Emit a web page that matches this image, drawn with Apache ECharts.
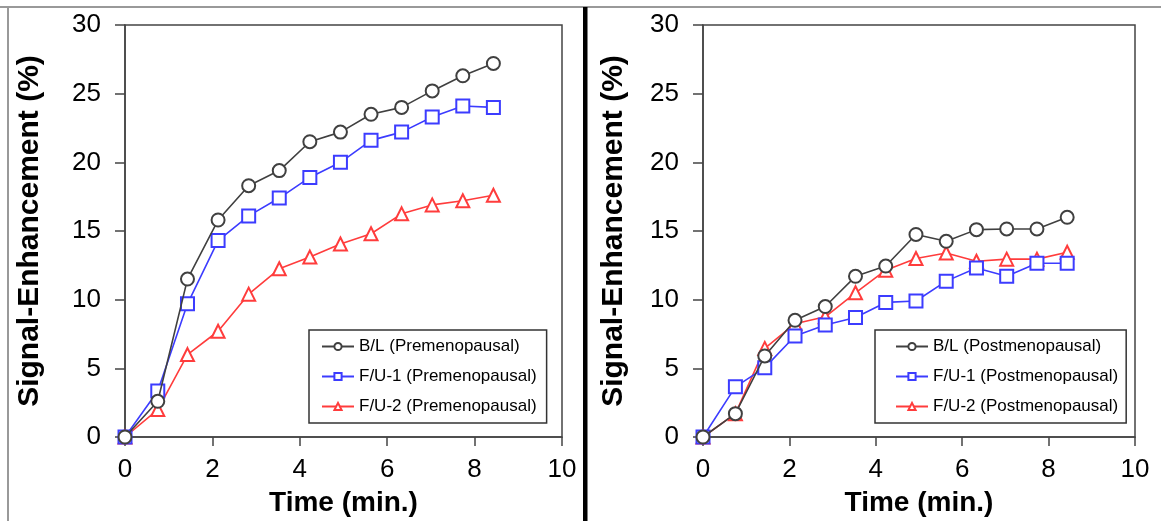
<!DOCTYPE html>
<html>
<head>
<meta charset="utf-8">
<script src="https://cdn.jsdelivr.net/npm/echarts@6/dist/echarts.min.js"></script>
<style>
html,body{margin:0;padding:0;background:#fff;}
#c{width:1161px;height:521px;}
</style>
</head>
<body>
<div id="c"></div>
<script>
// Time points (min.)
var time = [0, 0.75, 1.43, 2.13, 2.83, 3.53, 4.23, 4.93, 5.63, 6.33, 7.03, 7.73, 8.43];
// Premenopausal (left panel)
var blPre  = [0, 2.6, 11.5, 15.8, 18.3, 19.4, 21.5, 22.2, 23.5, 24.0, 25.2, 26.3, 27.2];
var fu1Pre = [0, 3.35, 9.7, 14.3, 16.1, 17.4, 18.9, 20.0, 21.6, 22.2, 23.3, 24.1, 24.0];
var fu2Pre = [0, 2.0, 6.0, 7.7, 10.4, 12.25, 13.1, 14.05, 14.8, 16.25, 16.9, 17.2, 17.6];
// Postmenopausal (right panel)
var blPost  = [0, 1.7, 5.9, 8.5, 9.5, 11.7, 12.45, 14.75, 14.25, 15.1, 15.15, 15.15, 16.0];
var fu1Post = [0, 3.65, 5.05, 7.35, 8.15, 8.7, 9.8, 9.9, 11.35, 12.3, 11.7, 12.65, 12.65];
var fu2Post = [0, 1.7, 6.45, 8.25, 8.75, 10.5, 12.15, 13.0, 13.4, 12.8, 12.95, 12.95, 13.45];
// Labels
var namesPre  = ['B/L (Premenopausal)', 'F/U-1 (Premenopausal)', 'F/U-2 (Premenopausal)'];
var namesPost = ['B/L (Postmenopausal)', 'F/U-1 (Postmenopausal)', 'F/U-2 (Postmenopausal)'];
var xTitle = 'Time (min.)';
var yTitle = 'Signal-Enhancement (%)';

var FONT = "'Liberation Sans', Arial, sans-serif";
var colors = ['#404040', '#3c3cff', '#ff3c3c'];
var symbols = ['emptyCircle', 'emptyRect', 'emptyTriangle'];

function pairs(xs, ys){ return xs.map(function(x,i){ return [x, ys[i]]; }); }

function xAxisCfg(idx){
  return {
    type:'value', gridIndex: idx, min:0, max:10, interval:2,
    name: xTitle, nameLocation:'middle', nameGap: 52,
    nameTextStyle:{fontFamily:FONT, fontSize:28, fontWeight:'bold', color:'#000'},
    axisLine:{show:true, lineStyle:{color:'#444', width:1.5}},
    axisTick:{show:true, inside:false, length:9, lineStyle:{color:'#444', width:1.5}},
    axisLabel:{fontFamily:FONT, fontSize:26, color:'#000', margin:20},
    splitLine:{show:false}
  };
}
function yAxisCfg(idx, gap){
  return {
    type:'value', gridIndex: idx, min:0, max:30, interval:5,
    name: yTitle, nameLocation:'middle', nameGap: gap, nameRotate:90,
    nameTextStyle:{fontFamily:FONT, fontSize:30, fontWeight:'bold', color:'#000'},
    axisLine:{show:true, lineStyle:{color:'#444', width:1.5}},
    axisTick:{show:true, inside:false, length:10, lineStyle:{color:'#444', width:1.5}},
    axisLabel:{fontFamily:FONT, fontSize:26, color:'#000', margin:24},
    splitLine:{show:false}
  };
}
function seriesCfg(name, ys, k, idx){
  return {
    type:'line', name:name, xAxisIndex: idx, yAxisIndex: idx,
    data: pairs(time, ys),
    symbol: symbols[k], symbolSize: 13,
    lineStyle:{color:colors[k], width:1.6},
    itemStyle:{color:colors[k], borderColor:colors[k], borderWidth:1.6},
    emphasis:{disabled:true},
    z: 10 - k
  };
}
function legendCfg(names, left, padLeft, padRight){
  return {
    data: names, orient:'vertical', left:left, top:330,
    itemWidth:32, itemHeight:9, itemGap:13,
    padding:[8, padRight, 8, padLeft],
    borderColor:'#333', borderWidth:1.5, borderRadius:0,
    backgroundColor:'#fff',
    textStyle:{fontFamily:FONT, fontSize:17, color:'#000'},
    selectedMode:false
  };
}

var chart = echarts.init(document.getElementById('c'), null, {renderer:'canvas'});
chart.setOption({
  animation:false,
  backgroundColor:'#fff',
  grid:[
    {left:125, top:25, width:437, height:412, outerBoundsMode:'none', containLabel:false, show:true, borderColor:'#444', borderWidth:1.5, backgroundColor:'transparent'},
    {left:703, top:25, width:432, height:412, outerBoundsMode:'none', containLabel:false, show:true, borderColor:'#444', borderWidth:1.5, backgroundColor:'transparent'}
  ],
  xAxis:[xAxisCfg(0), xAxisCfg(1)],
  yAxis:[yAxisCfg(0, 80), yAxisCfg(1, 74)],
  legend:[legendCfg(namesPre, 309, 12, 10), legendCfg(namesPost, 875, 20, 8)],
  series:[
    seriesCfg(namesPre[0], blPre, 0, 0),
    seriesCfg(namesPre[1], fu1Pre, 1, 0),
    seriesCfg(namesPre[2], fu2Pre, 2, 0),
    seriesCfg(namesPost[0], blPost, 0, 1),
    seriesCfg(namesPost[1], fu1Post, 1, 1),
    seriesCfg(namesPost[2], fu2Post, 2, 1)
  ],
  graphic:[
    {type:'line', shape:{x1:0, y1:7, x2:1161, y2:7}, style:{stroke:'#999', lineWidth:2}},
    {type:'line', shape:{x1:8, y1:7, x2:8, y2:521}, style:{stroke:'#999', lineWidth:2}},
    {type:'rect', shape:{x:583, y:7, width:4.5, height:514}, style:{fill:'#000'}}
  ]
});
</script>
</body>
</html>
